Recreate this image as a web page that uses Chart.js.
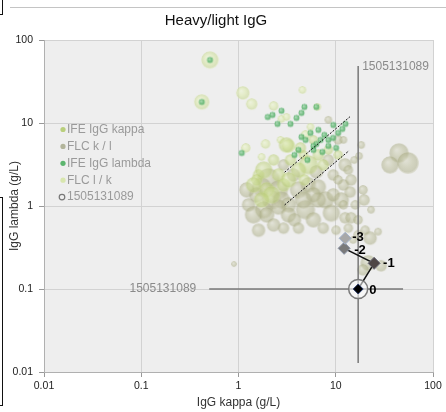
<!DOCTYPE html>
<html>
<head>
<meta charset="utf-8">
<script src="https://cdn.jsdelivr.net/npm/chart.js@4.4.1/dist/chart.umd.min.js"></script>
<style>
  html, body { margin: 0; padding: 0; background: #fff; }
  #wrap { position: relative; width: 446px; height: 412px; overflow: hidden; }
  #chart { position: absolute; left: 0; top: 0; }
  .edge { position: absolute; background: #111; }
  .frame { position: absolute; background: #c4c4c4; }
</style>
</head>
<body>
<div id="wrap">
  <canvas id="chart" width="446" height="412"></canvas>
  <div class="frame" style="left:10px;top:7px;width:436px;height:1px"></div>
  <div class="edge" style="left:2px;top:0;width:1px;height:14px"></div>
  <div class="edge" style="left:0;top:14px;width:3px;height:1px"></div>
  <div class="edge" style="left:2px;top:197px;width:1px;height:209px"></div>
  <div class="edge" style="left:0;top:197px;width:3px;height:1px"></div>
  <div class="edge" style="left:0;top:405px;width:3px;height:1px"></div>
</div>
<script>
// ---------- Data ----------
const chartTitle = 'Heavy/light IgG';
const xTitle = 'IgG kappa (g/L)';
const yTitle = 'IgG lambda (g/L)';
const tickValues = [0.01, 0.1, 1, 10, 100];
const tickLabels = ['0.01', '0.1', '1', '10', '100'];
const legendLabels = ['IFE IgG kappa', 'FLC k / l', 'IFE IgG lambda', 'FLC l / k', '1505131089'];

// FLC k / l
const flcKLKappa = [2.04, 1.73, 2.58, 2.19, 2.77, 1.54, 1.82, 3.27, 4.14, 5.24, 6.63, 7.83, 4.89, 9.02, 11.4, 14.4, 12.5, 10.6, 3.68, 2.91,
  6.33, 8.40, 5.90, 3.77, 2.58, 1.61, 12.5, 14.4, 17.0, 22.6, 14.1, 19.6, 23.1, 18.3, 17.4, 21.6, 29.3, 19.1, 44.8, 55.3,
  36.2, 0.90, 7.46, 10.1, 4.14, 12.0, 9.45, 1.27, 20.1, 15.1, 1.43, 1.22, 3.27, 6.63, 9.45, 5.90, 4.66, 2.30, 12.0, 15.9,
  10.6, 13.5, 15.5, 8.40, 12.0, 19.1, 17.0, 13.5, 27.3, 1.95, 2.91];
const flcKLLambda = [2.06, 1.69, 1.56, 1.18, 1.18, 1.36, 0.90, 1.03, 1.56, 1.79, 1.69, 1.18, 0.90, 0.82, 1.18, 2.06, 3.12, 6.24, 2.36, 3.12,
  2.57, 3.58, 0.68, 0.68, 0.97, 0.51, 0.72, 0.72, 0.68, 0.41, 1.47, 1.18, 0.90, 5.43, 4.00, 0.206, 0.19, 0.17, 4.35, 3.30,
  3.12, 0.20, 0.54, 0.51, 0.54, 1.79, 2.36, 1.03, 0.51, 0.39, 0.78, 1.56, 0.78, 1.18, 1.36, 1.36, 1.18, 0.59, 1.03, 1.03,
  2.06, 2.71, 3.58, 10.9, 6.24, 1.56, 0.45, 0.54, 0.49, 0.78, 0.54];
const flcKLSize = [12, 10, 10, 10, 9, 8, 9, 8, 9, 8, 8, 9, 10, 9, 8, 6, 7, 5, 7, 6,
  7, 6, 8, 7, 8, 7, 6, 6, 5, 7, 6, 6, 4, 4, 4, 8, 6, 6, 10, 11,
  9, 3, 6, 5, 6, 6, 6, 7, 5, 4, 9, 8, 8, 8, 7, 8, 9, 7, 5, 5,
  5, 5, 4, 4, 4, 5, 5, 5, 4, 8, 6];

// FLC l / k
const flcLKKappa = [0.51, 0.42, 1.11, 1.37, 2.30, 4.55, 1.90, 1.19, 1.73, 2.77, 5.50, 6.48, 3.27, 2.71, 3.12, 4.89];
const flcLKLambda = [57.4, 17.9, 23.0, 16.9, 16.0, 25.0, 5.58, 5.00, 3.89, 11.2, 8.95, 15.6, 5.28, 6.24, 11.8, 7.17];
const flcLKSize = [9, 8, 7, 6, 5, 4, 5, 5, 4, 4, 4, 4, 7, 4, 4, 5];

// IFE IgG kappa
const ifeKKappa = [5.24, 4.14, 2.58, 3.43, 2.30, 6.63, 4.66, 3.12, 5.90, 8.40, 1.61, 1.95, 2.91, 4.34, 7.46, 10.6, 4.77, 1.54,
  1.82, 1.43, 2.19, 3.27, 1.73];
const ifeKLambda = [3.12, 2.71, 2.36, 3.58, 3.58, 4.11, 4.11, 5.43, 6.24, 4.73, 2.36, 1.56, 1.79, 5.00, 3.12, 4.11, 2.06, 2.06,
  2.71, 1.79, 1.36, 2.06, 1.18];
const ifeKSize = [10, 8, 7, 6, 6, 6, 5, 8, 5, 5, 6, 8, 7, 6, 6, 5, 6, 6,
  9, 8, 9, 8, 8];

// IFE IgG lambda
const ifeLKappa = [0.51, 0.42, 2.0, 2.24, 2.77, 2.52, 3.43, 3.95, 4.45, 4.77, 6.33, 1.08, 4.45, 5.50, 6.33, 7.29, 10.1, 11.7, 8.40, 5.90,
  4.14, 5.12, 7.64, 9.45, 6.63, 3.77, 8.40, 9.40, 7.00, 5.90, 4.90, 12.6, 10.6];
const ifeLLambda = [57.4, 17.9, 11.8, 12.5, 14.0, 9.73, 9.73, 11.5, 13.2, 15.6, 15.6, 4.35, 6.78, 7.58, 5.58, 4.47, 5.00, 8.47, 6.24, 4.73,
  4.73, 3.58, 7.17, 9.46, 8.24, 4.11, 5.28, 6.60, 6.24, 5.28, 6.24, 9.73, 7.58];

// patient 1505131089 trail
const refKappa = 17.0;
const refLambda = 0.1;
const trailKappa = [17.0, 24.8, 12.2, 12.5];
const trailLambda = [0.1, 0.204, 0.309, 0.408];
const trailLabels = ['0', '-1', '-2', '-3'];
const refVLine = [0.0128, 48.6];   // lambda extent of kappa reference line
const refHLine = [0.50, 49.2];     // kappa extent of lambda reference line

// ratio guide lines (kappa, lambda pairs)
const ratioUpperKappa = [2.98, 14.0];
const ratioUpperLambda = [2.55, 11.9];
const ratioLowerKappa = [2.98, 13.7];
const ratioLowerLambda = [1.03, 4.64];

// ---------- Styles ----------
const FONT = "'Liberation Sans', Arial, Helvetica, sans-serif";
const COL_FLC_KL = [176, 178, 136];
const COL_FLC_LK = [220, 233, 178];
const COL_IFE_K = [196, 216, 128];
const COL_IFE_L = [84, 178, 104];
const legendDots = ['#b9cf7c', '#b2b49a', '#5cb56e', '#d8e6ae'];

// ---------- Helpers ----------
const spriteCache = {};
function sphere(rgb, r, alpha) {
  const key = rgb.join(',') + '|' + r + '|' + alpha;
  if (spriteCache[key]) return spriteCache[key];
  const size = Math.ceil(r * 2) + 2;
  const c = document.createElement('canvas');
  c.width = c.height = size;
  const g = c.getContext('2d');
  const cx = size / 2;
  const [R, G, B] = rgb;
  const mix = (k, a) => {
    const f = v => Math.round(k >= 0 ? v + (255 - v) * k : v * (1 + k));
    return `rgba(${f(R)},${f(G)},${f(B)},${a})`;
  };
  const grad = g.createRadialGradient(cx - r * 0.25, cx - r * 0.3, r * 0.05, cx, cx, r);
  grad.addColorStop(0, mix(0.45, alpha));
  grad.addColorStop(0.5, mix(0.1, alpha));
  grad.addColorStop(0.85, mix(-0.05, alpha));
  grad.addColorStop(1, mix(0.2, alpha * 0.6));
  g.fillStyle = grad;
  g.beginPath();
  g.arc(cx, cx, r, 0, Math.PI * 2);
  g.fill();
  spriteCache[key] = c;
  return c;
}

function bubbles(kappa, lambda, size) {
  return kappa.map((k, i) => ({ x: k, y: lambda[i], r: size ? size[i] : 3.2 }));
}
function pairs(xs, ys) {
  return xs.map((x, i) => ({ x, y: ys[i] }));
}

// ---------- Plugins ----------
const plotBg = {
  id: 'plotBg',
  beforeDraw(chart) {
    const { ctx, chartArea: a } = chart;
    ctx.save();
    ctx.fillStyle = '#eeeeee';
    ctx.fillRect(a.left, a.top, a.right - a.left, a.bottom - a.top);
    ctx.restore();
  }
};

const decorations = {
  id: 'decorations',
  afterDraw(chart) {
    const { ctx, scales: { x, y } } = chart;
    ctx.save();
    // title
    ctx.fillStyle = '#111';
    ctx.font = '15px ' + FONT;
    ctx.textAlign = 'center';
    ctx.textBaseline = 'middle';
    ctx.fillText(chartTitle, 216, 21);

    // legend
    ctx.font = '12px ' + FONT;
    ctx.textAlign = 'left';
    legendLabels.forEach((label, i) => {
      const ly = 129.5 + i * 16.9;
      if (i < 4) {
        ctx.fillStyle = legendDots[i];
        ctx.beginPath();
        ctx.arc(63, ly, 2.6, 0, Math.PI * 2);
        ctx.fill();
      } else {
        ctx.strokeStyle = '#777';
        ctx.lineWidth = 1.2;
        ctx.beginPath();
        ctx.arc(62, ly, 2.8, 0, Math.PI * 2);
        ctx.stroke();
      }
      ctx.fillStyle = '#9a9a9a';
      ctx.fillText(label, 67, ly);
    });

    // reference labels
    ctx.fillStyle = '#8a8a8a';
    ctx.font = '12px ' + FONT;
    ctx.textAlign = 'left';
    ctx.fillText(legendLabels[4], x.getPixelForValue(refKappa) + 4, y.getPixelForValue(refVLine[1]) + 1);
    ctx.textAlign = 'right';
    ctx.fillText(legendLabels[4], x.getPixelForValue(refHLine[0]) - 13, y.getPixelForValue(refLambda));

    // trail labels
    ctx.fillStyle = '#000';
    ctx.font = 'bold 13px ' + FONT;
    ctx.textAlign = 'left';
    const dx = [11, 9, 10, 7];
    const dy = [1, 0, 2, -1];
    trailLabels.forEach((t, i) => {
      ctx.fillText(t, x.getPixelForValue(trailKappa[i]) + dx[i], y.getPixelForValue(trailLambda[i]) + dy[i]);
    });
    ctx.restore();
  }
};

// ---------- Chart ----------
const axisCommon = {
  type: 'logarithmic',
  min: 0.01,
  max: 100,
  grid: { color: '#d2d2d2', tickColor: '#999', tickLength: 5, lineWidth: 1 },
  border: { display: true, color: '#b0b0b0' },
  afterBuildTicks: s => { s.ticks = tickValues.map(v => ({ value: v })); }
};

new Chart(document.getElementById('chart'), {
  type: 'bubble',
  data: {
    datasets: [
      {
        label: legendLabels[1], order: 9,
        data: bubbles(flcKLKappa, flcKLLambda, flcKLSize),
        pointStyle: c => sphere(COL_FLC_KL, c.raw ? c.raw.r : 5, 0.5)
      },
      {
        label: legendLabels[3], order: 8,
        data: bubbles(flcLKKappa, flcLKLambda, flcLKSize),
        pointStyle: c => sphere(COL_FLC_LK, c.raw ? c.raw.r : 5, 0.75)
      },
      {
        label: legendLabels[0], order: 7,
        data: bubbles(ifeKKappa, ifeKLambda, ifeKSize),
        pointStyle: c => sphere(COL_IFE_K, c.raw ? c.raw.r : 5, 0.55)
      },
      {
        label: legendLabels[2], order: 6,
        data: bubbles(ifeLKappa, ifeLLambda, null),
        pointStyle: c => sphere(COL_IFE_L, 3.2, 0.8)
      },
      {
        type: 'line', order: 5, label: 'ratio hi',
        data: pairs(ratioUpperKappa, ratioUpperLambda),
        borderColor: '#111', borderWidth: 1, borderDash: [2, 1.5], pointRadius: 0
      },
      {
        type: 'line', order: 5, label: 'ratio lo',
        data: pairs(ratioLowerKappa, ratioLowerLambda),
        borderColor: '#111', borderWidth: 1, borderDash: [2, 1.5], pointRadius: 0
      },
      {
        type: 'line', order: 4, label: 'ref v',
        data: pairs([refKappa, refKappa], refVLine),
        borderColor: '#777', borderWidth: 1.5, pointRadius: 0
      },
      {
        type: 'line', order: 4, label: 'ref h',
        data: pairs(refHLine, [refLambda, refLambda]),
        borderColor: '#777', borderWidth: 1.5, pointRadius: 0
      },
      {
        type: 'line', order: 3, label: 'trail',
        data: pairs(trailKappa.slice(0, 3), trailLambda.slice(0, 3)),
        borderColor: '#111', borderWidth: 1.5, pointRadius: 0
      },
      {
        type: 'line', order: 2, label: 'ref circle', showLine: false,
        data: pairs([refKappa], [refLambda]),
        pointStyle: 'circle', pointRadius: 9.5,
        pointBorderColor: '#7a7a7a', pointBorderWidth: 1.5,
        pointBackgroundColor: 'rgba(255,255,255,0.55)'
      },
      {
        type: 'line', order: 1, label: 'trail points', showLine: false,
        data: pairs(trailKappa, trailLambda),
        pointStyle: 'rectRot', pointRadius: [5, 6, 6, 6],
        pointBackgroundColor: ['#000000', '#4e4646', '#7a7a7a', '#a8a8a8'],
        pointBorderColor: ['#2b3b6a', '#6a6a78', '#8a93a6', '#a2b2cc'],
        pointBorderWidth: 1
      }
    ]
  },
  options: {
    responsive: false,
    animation: false,
    events: [],
    layout: { padding: { top: 40, right: 11, left: 0, bottom: 0 } },
    plugins: { legend: { display: false }, title: { display: false }, tooltip: { enabled: false } },
    scales: {
      x: {
        ...axisCommon,
        position: 'bottom',
        afterFit: s => { s.height = 40; },
        ticks: {
          autoSkip: false, maxRotation: 0, padding: 3,
          color: '#222', font: { family: FONT, size: 10.5 },
          callback: (v, i) => tickLabels[i]
        },
        title: { display: true, text: xTitle, color: '#333', font: { family: FONT, size: 12 }, padding: { top: 0, bottom: 2 } }
      },
      y: {
        ...axisCommon,
        position: 'left',
        afterFit: s => { s.width = 44; },
        ticks: {
          autoSkip: false, padding: 6,
          color: '#222', font: { family: FONT, size: 10.5 },
          callback: (v, i) => tickLabels[i]
        },
        title: { display: true, text: yTitle, color: '#333', font: { family: FONT, size: 12 }, padding: { top: 7, bottom: 0 } }
      }
    }
  },
  plugins: [plotBg, decorations]
});
</script>
</body>
</html>
